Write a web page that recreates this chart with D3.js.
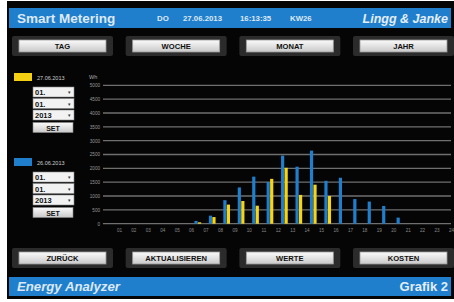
<!DOCTYPE html>
<html>
<head>
<meta charset="utf-8">
<script src="https://cdn.jsdelivr.net/npm/d3@7"></script>
<style>
  body { margin: 0; background: #fff; }
  svg { display: block; font-family: "Liberation Sans", Arial, sans-serif; }
</style>
</head>
<body>
<svg id="chart" width="454" height="302"></svg>
<script>
// hourly consumption in Wh, one value per hour interval (00-01 ... 23-24)
const hourLabels = ['01','02','03','04','05','06','07','08','09','10','11','12',
  '13','14','15','16','17','18','19','20','21','22','23','24'];
const yTicks = [0, 500, 1000, 1500, 2000, 2500, 3000, 3500, 4000, 4500, 5000];
const blueDay = '26.06.2013';
const blueValues = [0,0,0,0,0,0,100,290,850,1310,1700,1510,2460,2060,2640,1550,1660,890,800,640,220,0,0,0];
const yellowDay = '27.06.2013';
const yellowValues = [0,0,0,0,0,0,50,240,690,820,650,1620,2020,1040,1410,1000,0,0,0,0,0,0,0,0];
const topButtons = ['TAG', 'WOCHE', 'MONAT', 'JAHR'];
const bottomButtons = ['ZURÜCK', 'AKTUALISIEREN', 'WERTE', 'KOSTEN'];
const selectValues = ['01.', '01.', '2013'];
const headerInfo = ['DO', '27.06.2013', '16:13:35', 'KW26'];

const svg = d3.select('#chart');

const defs = svg.append('defs');
const grad = defs.append('linearGradient').attr('id', 'btn').attr('x1', 0).attr('y1', 0).attr('x2', 0).attr('y2', 1);
grad.append('stop').attr('offset', '0%').attr('stop-color', '#fafafa');
grad.append('stop').attr('offset', '50%').attr('stop-color', '#e2e2e2');
grad.append('stop').attr('offset', '100%').attr('stop-color', '#c8c8c8');

// screen background
svg.append('rect').attr('x', 7).attr('y', 1).attr('width', 447).attr('height', 298).attr('fill', '#050505');

// header / footer bars
svg.append('rect').attr('x', 9).attr('y', 8).attr('width', 442).attr('height', 20).attr('fill', '#1f7fcc');
svg.append('rect').attr('x', 9).attr('y', 277).attr('width', 442).attr('height', 19).attr('fill', '#1f7fcc');

svg.append('text').attr('x', 17).attr('y', 23).text('Smart Metering')
  .attr('fill', '#dde9f6').attr('font-size', 13.5).attr('font-weight', 'bold');
svg.append('g').selectAll('text').data(headerInfo).enter().append('text')
  .attr('x', (d, i) => [157, 183, 240, 290][i]).attr('y', 21).text(d => d)
  .attr('fill', '#dde9f6').attr('font-size', 7.8).attr('font-weight', 'bold');
svg.append('text').attr('x', 448).attr('y', 23).attr('text-anchor', 'end').text('Lingg & Janke')
  .attr('fill', '#e4eef8').attr('font-size', 12.5).attr('font-weight', 'bold').attr('font-style', 'italic');
svg.append('text').attr('x', 17).attr('y', 291).text('Energy Analyzer')
  .attr('fill', '#dde9f6').attr('font-size', 13.2).attr('font-weight', 'bold').attr('font-style', 'italic');
svg.append('text').attr('x', 448).attr('y', 291).attr('text-anchor', 'end').text('Grafik 2')
  .attr('fill', '#e4eef8').attr('font-size', 13).attr('font-weight', 'bold');

// buttons
const btnX = d3.scalePoint().domain(d3.range(4)).range([19, 360]);
function drawButtons(labels, y) {
  const g = svg.append('g').selectAll('g').data(labels).enter().append('g')
    .attr('transform', (d, i) => `translate(${btnX(i)},${y})`);
  g.append('rect').attr('x', -7).attr('y', -4).attr('width', 101).attr('height', 20)
    .attr('fill', '#2b2b2b').attr('rx', 2);
  g.append('rect').attr('x', 0).attr('y', 0).attr('width', 87).attr('height', 12)
    .attr('fill', 'url(#btn)').attr('stroke', '#9a9a9a').attr('stroke-width', 0.8);
  g.append('text').attr('x', 43.5).attr('y', 8.7).attr('text-anchor', 'middle').text(d => d)
    .attr('font-size', 7.6).attr('font-weight', 'bold').attr('fill', '#111');
}
drawButtons(topButtons, 40);
drawButtons(bottomButtons, 252);

// date selectors on the left
function drawSelector(color, day, y) {
  const g = svg.append('g').attr('transform', `translate(0,${y})`);
  g.append('rect').attr('x', 14).attr('y', 0).attr('width', 18).attr('height', 8).attr('fill', color);
  g.append('text').attr('x', 37).attr('y', 6.5).text(day).attr('fill', '#ccc').attr('font-size', 5.5);
  const rows = g.selectAll('g.sel').data(selectValues).enter().append('g').attr('class', 'sel')
    .attr('transform', (d, i) => `translate(33,${14 + i * 11.5})`);
  rows.append('rect').attr('width', 41).attr('height', 10).attr('fill', '#f2f2f2').attr('stroke', '#888').attr('stroke-width', 0.6);
  rows.append('text').attr('x', 2).attr('y', 8).text(d => d).attr('font-size', 7.5).attr('font-weight', 'bold').attr('fill', '#111');
  rows.append('text').attr('x', 38).attr('y', 7).attr('text-anchor', 'end').text('▾').attr('font-size', 5).attr('fill', '#333');
  const set = g.append('g').attr('transform', `translate(33,${14 + 3 * 11.5 + 1})`);
  set.append('rect').attr('width', 40).attr('height', 10).attr('fill', 'url(#btn)').attr('stroke', '#888').attr('stroke-width', 0.6);
  set.append('text').attr('x', 20).attr('y', 8).attr('text-anchor', 'middle').text('SET')
    .attr('font-size', 7).attr('font-weight', 'bold').attr('fill', '#111');
}
drawSelector('#f5cf12', yellowDay, 73);
drawSelector('#1f7fcc', blueDay, 158);

// chart
const x = d3.scaleLinear().domain([0, 24]).range([104.5, 451]);
const y = d3.scaleLinear().domain([0, 5000]).range([223.7, 85.3]);

const grid = svg.append('g');
grid.selectAll('line').data(yTicks).enter().append('line')
  .attr('x1', 103).attr('x2', 451)
  .attr('y1', d => y(d)).attr('y2', d => y(d))
  .attr('stroke', '#6f6f6f').attr('stroke-width', 1.3);

const yAxis = svg.append('g').attr('transform', 'translate(100,0)')
  .call(d3.axisLeft(y).tickValues(yTicks).tickFormat(d3.format('d')).tickSize(0).tickPadding(0));
yAxis.select('.domain').remove();
yAxis.selectAll('text').attr('fill', '#9a9a9a').attr('font-size', 4.6).attr('font-family', 'Liberation Sans, Arial, sans-serif');

svg.append('text').attr('x', 89).attr('y', 79).text('Wh').attr('fill', '#aaa').attr('font-size', 5.5);

const xAxis = svg.append('g').attr('transform', 'translate(0,226)')
  .call(d3.axisBottom(x).tickValues(d3.range(1, 25)).tickFormat(d => hourLabels[d - 1]).tickSize(0).tickPadding(3));
xAxis.select('.domain').remove();
xAxis.selectAll('text').attr('fill', '#8a8a8a').attr('font-size', 4.6).attr('font-family', 'Liberation Sans, Arial, sans-serif');

const barW = 3.2;
svg.append('g').selectAll('rect').data(blueValues).enter().append('rect')
  .attr('x', (d, i) => x(i) + 3.3).attr('width', barW)
  .attr('y', d => y(d)).attr('height', d => y(0) - y(d))
  .attr('fill', '#1f7fcc');
svg.append('g').selectAll('rect').data(yellowValues).enter().append('rect')
  .attr('x', (d, i) => x(i) + 6.8).attr('width', barW)
  .attr('y', d => y(d)).attr('height', d => y(0) - y(d))
  .attr('fill', '#f7d414');
</script>
</body>
</html>
